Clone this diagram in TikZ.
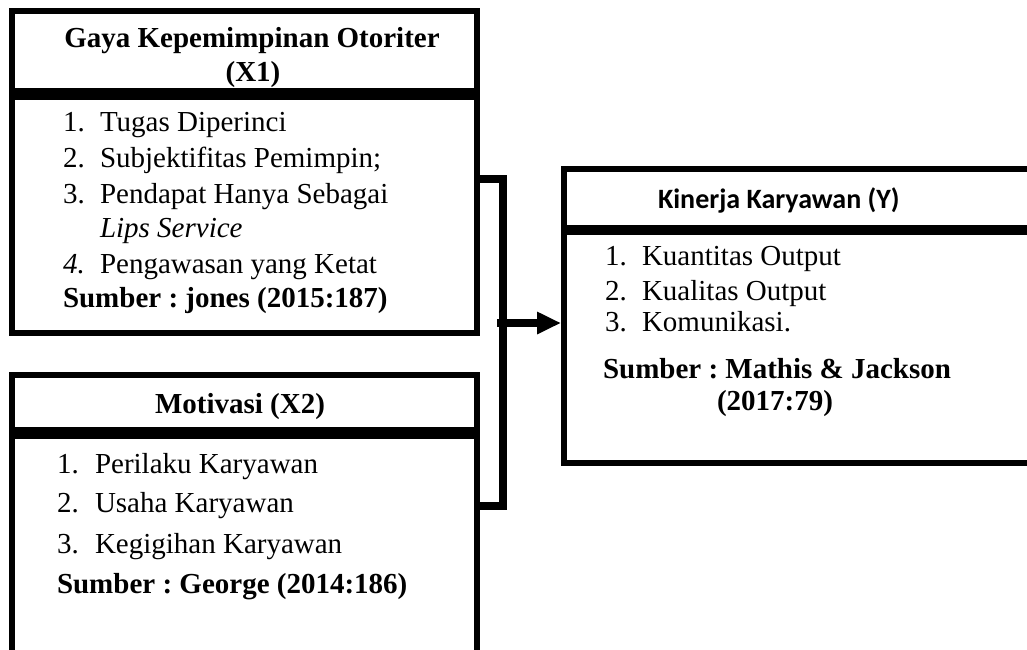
\documentclass[tikz,border=0pt]{standalone}
\usepackage{fontspec}
\setmainfont{Liberation Serif}
\newfontfamily\calib{Carlito}
\usetikzlibrary{arrows.meta}
\frenchspacing
\begin{document}
\begin{tikzpicture}[x=1pt,y=-1pt,
  boxpart/.style={draw=black,line width=6pt,rectangle,inner sep=0pt,outer sep=0pt,anchor=north west},
  txt/.style={inner sep=0pt,outer sep=0pt,anchor=base west,font=\fontsize{29}{34}\selectfont},
  btxt/.style={inner sep=0pt,outer sep=0pt,anchor=base,font=\fontsize{29}{34}\selectfont\bfseries},
  conn/.style={draw=black,line width=8pt,line join=miter}]
\useasboundingbox (0,0) rectangle (1027,649);
% Box X1
\node[boxpart,minimum width=464.5pt,minimum height=80.5pt] (x1head) at (12,10.5) {};
\node[boxpart,minimum width=464.5pt,minimum height=236pt] (x1body) at (12,97) {};
\node[btxt] (x1t1) at (252,47) {Gaya Kepemimpinan Otoriter};
\node[btxt] (x1t2) at (253,81) {(X1)};
\node[txt] (x1n1) at (63,131) {1.};
\node[txt] (x1i1) at (100,131) {Tugas Diperinci};
\node[txt] (x1n2) at (63,167) {2.};
\node[txt] (x1i2) at (100,167) {Subjektifitas Pemimpin;};
\node[txt] (x1n3) at (63,203) {3.};
\node[txt] (x1i3) at (100,203) {Pendapat Hanya Sebagai};
\node[txt] (x1i3b) at (100,237) {\itshape Lips Service};
\node[txt] (x1n4) at (63,273) {\itshape 4.};
\node[txt] (x1i4) at (100,273) {Pengawasan yang Ketat};
\node[txt] (x1src) at (63,307) {\bfseries Sumber : jones (2015:187)};
% Box X2
\node[boxpart,minimum width=464.5pt,minimum height=55pt] (x2head) at (12,374.5) {};
\node[boxpart,minimum width=464.5pt,minimum height=300pt] (x2body) at (12,435.5) {};
\node[btxt] (x2t1) at (240,413) {Motivasi (X2)};
\node[txt] (x2n1) at (57,473) {1.};
\node[txt] (x2i1) at (95,473) {Perilaku Karyawan};
\node[txt] (x2n2) at (57,512) {2.};
\node[txt] (x2i2) at (95,512) {Usaha Karyawan};
\node[txt] (x2n3) at (57,553) {3.};
\node[txt] (x2i3) at (95,553) {Kegigihan Karyawan};
\node[txt] (x2src) at (57,593) {\bfseries Sumber : George (2014:186)};
% Box Y
\node[boxpart,minimum width=490pt,minimum height=59pt] (yhead) at (564,169) {};
\node[boxpart,minimum width=490pt,minimum height=231pt] (ybody) at (564,232) {};
\node[txt,font=\calib\fontsize{28}{34}\selectfont\bfseries] (yt1) at (658,208) {Kinerja Karyawan (Y)};
\node[txt] (yn1) at (605,265) {1.};
\node[txt] (yi1) at (642,265) {Kuantitas Output};
\node[txt] (yn2) at (605,300) {2.};
\node[txt] (yi2) at (642,300) {Kualitas Output};
\node[txt] (yn3) at (605,331) {3.};
\node[txt] (yi3) at (642,331) {Komunikasi.};
\node[txt] (ysrc) at (603,378) {\bfseries Sumber : Mathis \& Jackson};
\node[txt] (ysrc2) at (717,410) {\bfseries (2017:79)};
% Connectors
\coordinate (jt) at (502.5,179);
\coordinate (jb) at (502.5,506);
\coordinate (ja) at (497,323);
\draw[conn] (x1body.east |- jt) -- (jt) -- (jb) -- (x2body.east |- jb);
\draw[conn,-{Triangle[length=24pt,width=21pt]}] (ja) -- ([xshift=-3pt]ybody.west |- ja);
\end{tikzpicture}
\end{document}
